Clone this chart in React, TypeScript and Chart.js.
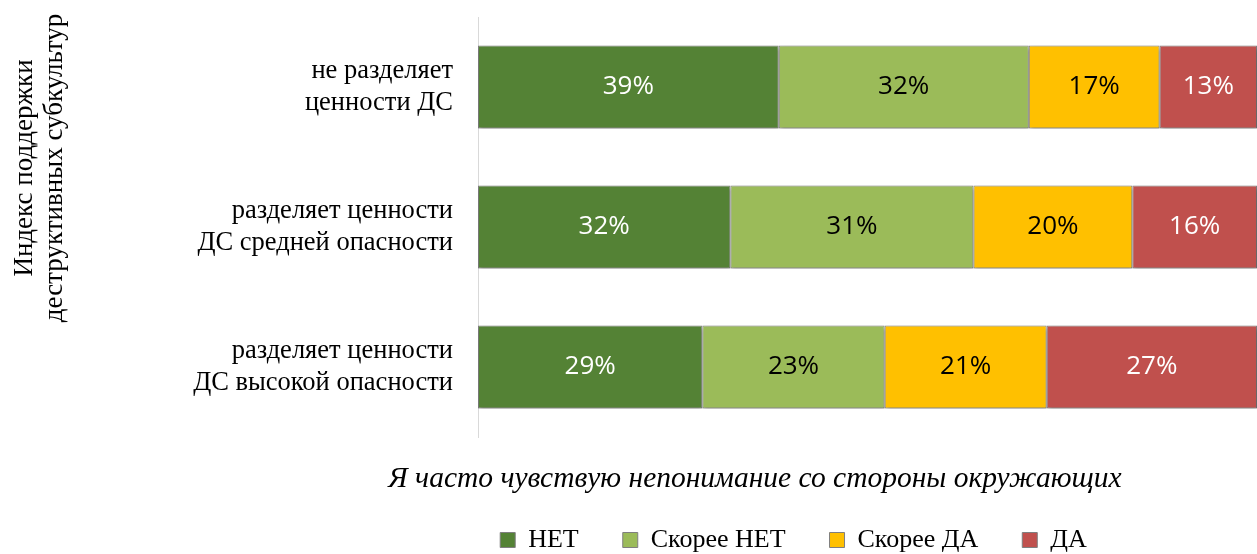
import { useEffect, useRef } from "react";
import { Chart, registerables } from "chart.js";

Chart.register(...registerables);

const categories = [
  ["не разделяет", "ценности ДС"],
  ["разделяет ценности", "ДС средней опасности"],
  ["разделяет ценности", "ДС высокой опасности"],
];
const seriesNames = ["НЕТ", "Скорее НЕТ", "Скорее ДА", "ДА"];
const net = [38.6, 32.4, 28.8];
const ratherNet = [32.1, 31.2, 23.4];
const ratherDa = [16.8, 20.4, 20.8];
const da = [12.5, 16.0, 27.0];
const yTitle = ["Индекс поддержки", "деструктивных субкультур"];
const xTitle = "Я часто чувствую непонимание со стороны окружающих";

const colors = ["#548235", "#9BBB59", "#FFC000", "#C0504D"];
const labelColors = ["#ffffff", "#000000", "#000000", "#ffffff"];
const SERIF = '"Liberation Serif", "Times New Roman", serif';

const shadowPlugin = {
  id: "barShadow",
  beforeDatasetsDraw(chart: any) {
    const c = chart.ctx;
    c.save();
    c.shadowColor = "rgba(0,0,0,0.3)";
    c.shadowBlur = 4;
    c.shadowOffsetX = 1;
    c.shadowOffsetY = 3;
  },
  afterDatasetsDraw(chart: any) {
    chart.ctx.restore();
  },
};

const legendShiftPlugin = {
  id: "legendShift",
  afterLayout(chart: any) {
    const l = chart.legend;
    if (!l) return;
    l.left += 165;
    l.right += 165;
  },
};

const textPlugin = {
  id: "texts",
  afterDraw(chart: any) {
    const ctx = chart.ctx;
    ctx.save();
    ctx.font = '26px "Open Sans", sans-serif';
    ctx.textAlign = "center";
    ctx.textBaseline = "middle";
    chart.data.datasets.forEach((ds: any, di: number) => {
      const meta = chart.getDatasetMeta(di);
      meta.data.forEach((bar: any, i: number) => {
        const v = ds.data[i];
        const p = bar.getProps(["x", "y", "base"], true);
        ctx.fillStyle = labelColors[di];
        ctx.fillText(Math.round(v) + "%", (p.x + p.base) / 2, p.y);
      });
    });
    ctx.fillStyle = "#000";
    ctx.textBaseline = "alphabetic";
    ctx.font = "italic 29.5px " + SERIF;
    ctx.fillText(xTitle, 755, 487);
    ctx.font = "27px " + SERIF;
    yTitle.forEach((t, k) => {
      ctx.save();
      ctx.translate(32 + 30 * k, 168);
      ctx.rotate(-Math.PI / 2);
      ctx.fillText(t, 0, 0);
      ctx.restore();
    });
    ctx.restore();
  },
};

export default function App() {
  const ref = useRef<HTMLCanvasElement>(null);
  useEffect(() => {
    if (!ref.current) return;
    const series = [net, ratherNet, ratherDa, da];
    const chart = new Chart(ref.current, {
      type: "bar",
      data: {
        labels: categories,
        datasets: series.map((d, i) => ({
          label: seriesNames[i],
          data: d,
          backgroundColor: colors[i],
          borderColor: "#7f7f7f",
          borderWidth: 1,
          borderSkipped: false,
          barPercentage: 0.593,
          categoryPercentage: 1,
        })),
      },
      options: {
        animation: false,
        responsive: true,
        maintainAspectRatio: false,
        indexAxis: "y",
        layout: { padding: { left: 0, right: 0, top: 17, bottom: -9 } },
        scales: {
          x: {
            stacked: true,
            min: 0,
            max: 100,
            grid: { display: false, drawTicks: false },
            border: { display: false },
            ticks: { display: false },
            afterFit: (s: any) => {
              s.height = 46;
              s.paddingLeft = 0;
              s.paddingRight = 0;
            },
          },
          y: {
            stacked: true,
            grid: { display: false, drawTicks: false },
            border: { display: true, color: "#d9d9d9", width: 1 },
            ticks: {
              color: "#000",
              font: { family: SERIF, size: 26.5, lineHeight: 1.22 },
              padding: 25,
            },
            afterFit: (s: any) => {
              s.width = 478;
              s.paddingTop = 0;
              s.paddingBottom = 0;
            },
          },
        },
        plugins: {
          legend: {
            position: "bottom",
            labels: {
              color: "#000",
              font: { family: SERIF, size: 26 },
              boxWidth: 15,
              boxHeight: 15,
              padding: 44,
            },
          },
          tooltip: { enabled: false },
        },
      } as any,
      plugins: [shadowPlugin, legendShiftPlugin, textPlugin],
    });
    return () => chart.destroy();
  }, []);
  return (
    <div style={{ position: "absolute", left: 0, top: 0, width: 1257, height: 554, background: "#fff" }}>
      <canvas ref={ref} />
    </div>
  );
}
